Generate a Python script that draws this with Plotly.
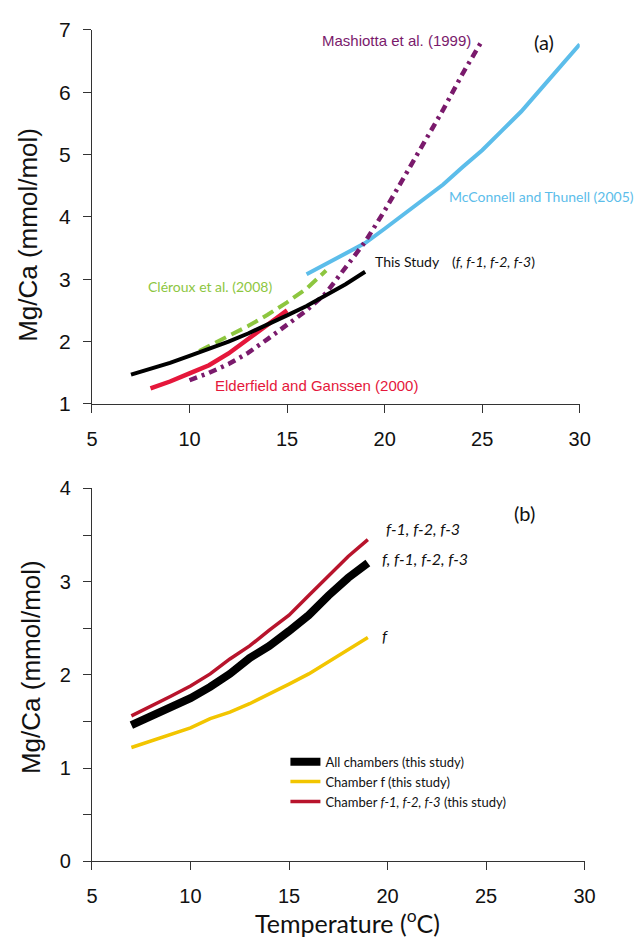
import plotly.graph_objects as go

W, H = 644, 948

# ---------------- Panel (a) data ----------------
t_study = [7, 8, 9, 10, 11, 12, 13, 14, 15, 16, 17, 18, 19]
mg_study = [1.47, 1.56, 1.66, 1.77, 1.88, 2.00, 2.13, 2.27, 2.42, 2.57, 2.74, 2.92, 3.12]

t_elder = [8, 9, 10, 11, 12, 13, 14, 15]
mg_elder = [1.25, 1.36, 1.49, 1.62, 1.81, 2.04, 2.27, 2.50]

t_clerx = [10.5, 11, 12, 13, 14, 15, 16, 17]
mg_clerx = [1.85, 1.93, 2.08, 2.25, 2.43, 2.63, 2.85, 3.14]

t_mash = [10, 11, 12, 13, 14, 15, 16, 17, 18, 19, 20, 21, 22, 23, 24, 25]
mg_mash = [1.38, 1.50, 1.64, 1.82, 2.04, 2.26, 2.50, 2.78, 3.18, 3.60, 4.10, 4.63, 5.17, 5.72, 6.30, 6.83]

t_mcc = [16, 17, 18, 19, 20, 21, 22, 23, 24, 25, 26, 27, 28, 29, 30]
mg_mcc = [3.08, 3.25, 3.42, 3.58, 3.81, 4.05, 4.28, 4.52, 4.80, 5.07, 5.38, 5.69, 6.05, 6.41, 6.77]

# ---------------- Panel (b) data ----------------
t_b = [7, 8, 9, 10, 11, 12, 13, 14, 15, 16, 17, 18, 19]
mg_all = [1.46, 1.55, 1.64, 1.75, 1.87, 2.01, 2.18, 2.31, 2.47, 2.64, 2.85, 3.04, 3.20]
mg_f = [1.22, 1.29, 1.36, 1.43, 1.53, 1.60, 1.69, 1.79, 1.90, 2.01, 2.14, 2.26, 2.40]
mg_f123 = [1.56, 1.66, 1.77, 1.88, 2.01, 2.17, 2.31, 2.48, 2.64, 2.85, 3.06, 3.27, 3.45]

x_ticks = [5, 10, 15, 20, 25, 30]
ya_ticks = [1, 2, 3, 4, 5, 6, 7]
yb_ticks = [0, 1, 2, 3, 4]

C_BLACK = "#000000"
C_RED_A = "#E5173B"
C_GREEN = "#8DC63F"
C_PURPLE = "#7A1A6C"
C_BLUE = "#5CBDEA"
C_YELLOW = "#F2C500"
C_RED_B = "#B8142C"

fig = go.Figure()

# Panel (a)
fig.add_trace(go.Scatter(x=t_mcc, y=mg_mcc, mode="lines", line=dict(color=C_BLUE, width=4),
                         xaxis="x", yaxis="y", showlegend=False))
fig.add_trace(go.Scatter(x=t_clerx, y=mg_clerx, mode="lines",
                         line=dict(color=C_GREEN, width=4, dash="12px,6px"),
                         xaxis="x", yaxis="y", showlegend=False))
fig.add_trace(go.Scatter(x=t_elder, y=mg_elder, mode="lines", line=dict(color=C_RED_A, width=4.5),
                         xaxis="x", yaxis="y", showlegend=False))
fig.add_trace(go.Scatter(x=t_mash, y=mg_mash, mode="lines",
                         line=dict(color=C_PURPLE, width=4.5, dash="8px,5px,3px,5px"),
                         xaxis="x", yaxis="y", showlegend=False))
fig.add_trace(go.Scatter(x=t_study, y=mg_study, mode="lines", line=dict(color=C_BLACK, width=4),
                         xaxis="x", yaxis="y", showlegend=False))

# Panel (b)
fig.add_trace(go.Scatter(x=t_b, y=mg_all, mode="lines", line=dict(color=C_BLACK, width=8),
                         name="All chambers (this study)", xaxis="x2", yaxis="y2"))
fig.add_trace(go.Scatter(x=t_b, y=mg_f, mode="lines", line=dict(color=C_YELLOW, width=3.5),
                         name="Chamber f (this study)", xaxis="x2", yaxis="y2"))
fig.add_trace(go.Scatter(x=t_b, y=mg_f123, mode="lines", line=dict(color=C_RED_B, width=3.5),
                         name="Chamber <i>f-1, f-2, f-3</i> (this study)", xaxis="x2", yaxis="y2"))


def px(xp):
    return xp / W


def py(yp):
    return 1 - yp / H


AX_COLOR = "#333333"
TICK_FONT = dict(family="Liberation Sans, Arial", size=20, color="#111111")

common = dict(showline=True, linecolor=AX_COLOR, linewidth=1, ticks="outside", ticklen=8,
              tickcolor=AX_COLOR, tickwidth=1, showgrid=False, zeroline=False,
              tickfont=TICK_FONT, fixedrange=True)

fig.update_layout(
    width=W, height=H,
    margin=dict(l=0, r=0, t=0, b=0),
    paper_bgcolor="white", plot_bgcolor="white",
    xaxis=dict(domain=[px(88.3), px(589.3)], range=[5, 30], tickvals=x_ticks, anchor="y",
               ticklabelstandoff=9, **common),
    yaxis=dict(domain=[py(401.7), py(18.3)], range=[1, 7], tickvals=ya_ticks, anchor="x",
               ticklabelstandoff=8, **{**common, "tickfont": dict(family="Liberation Sans, Arial", size=21, color="#111111")}),
    xaxis2=dict(domain=[px(88.3), px(594.3)], range=[5, 30], tickvals=x_ticks, anchor="y2",
                ticklabelstandoff=9, **common),
    yaxis2=dict(domain=[py(870.3), py(488.3)], range=[0, 4], tickvals=yb_ticks, anchor="x2",
                ticklabelstandoff=8,
                minor=dict(dtick=0.5, ticks="outside", ticklen=8, tickcolor=AX_COLOR, tickwidth=1, showgrid=False),
                **common),
    showlegend=True,
    legend=dict(x=px(287), y=py(753), xanchor="left", yanchor="top",
                font=dict(family="Lato", size=13, color="#111111"),
                bgcolor="rgba(0,0,0,0)", borderwidth=0, tracegroupgap=0),
)

ann = []


def add_text(text, xp, yp, size, color="#111111", family="Lato", xanchor="center"):
    ann.append(dict(text=text, x=px(xp), y=py(yp), xref="paper", yref="paper",
                    xanchor=xanchor, yanchor="middle", showarrow=False,
                    font=dict(family=family, size=size, color=color)))


add_text("Mashiotta et al. (1999)", 401, 29, 15, C_PURPLE, "Liberation Sans, Arial")
add_text("(a)", 553, 31, 20, "#111111", "Lato")
add_text("McConnell and Thunell (2005)", 550, 189, 14, C_BLUE, "Lato")
add_text("This Study", 412, 256, 14, "#111111", "Lato")
add_text("(<i>f, f-1, f-2, f-3</i>)", 501, 256, 14, "#111111", "Lato")
add_text("Cléroux et al. (2008)", 210, 281, 14, C_GREEN, "Lato")
add_text("Elderfield and Ganssen (2000)", 319, 383, 15, C_RED_A, "Liberation Sans, Arial")

add_text("(b)", 533, 513, 20, "#111111", "Lato")
add_text("<i>f-1, f-2, f-3</i>", 388, 529, 16, "#111111", "Lato", xanchor="left")
add_text("<i>f, f-1, f-2, f-3</i>", 384, 560, 16, "#111111", "Lato", xanchor="left")
add_text("<i>f</i>", 384, 639, 16, "#111111", "Lato", xanchor="left")

# axis titles
for yc, xc in [(228, 23), (671, 25)]:
    ann.append(dict(text="Mg/Ca (mmol/mol)", x=px(xc), y=py(yc), xref="paper", yref="paper",
                    xanchor="center", yanchor="middle", showarrow=False, textangle=-90,
                    font=dict(family="Liberation Sans, Arial", size=26, color="#111111")))
ann.append(dict(text="Temperature (<sup>o</sup>C)", x=px(351), y=py(932), xref="paper", yref="paper",
                xanchor="center", yanchor="middle", showarrow=False,
                font=dict(family="Lato", size=25, color="#111111")))

fig.update_layout(annotations=ann)

fig.write_html("out.html")
